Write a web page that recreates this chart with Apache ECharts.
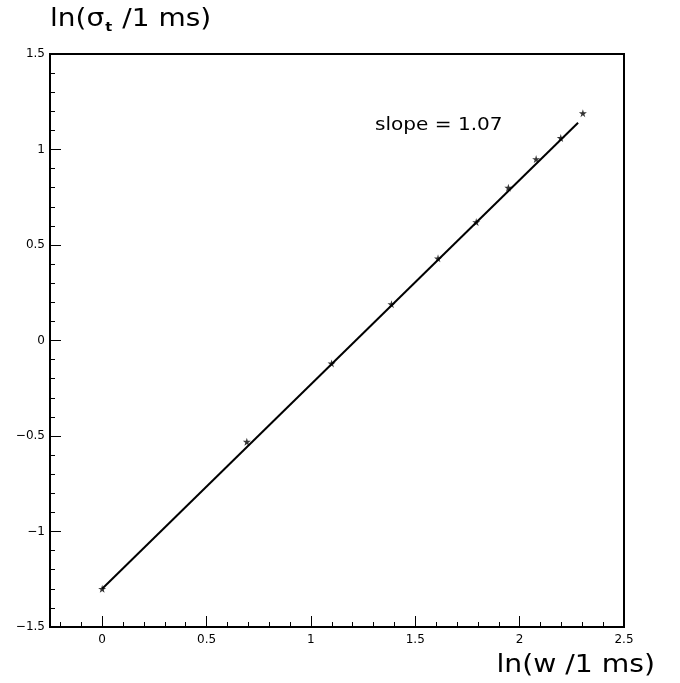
<!DOCTYPE html>
<html>
<head>
<meta charset="utf-8">
<script src="https://cdn.jsdelivr.net/npm/echarts@6/dist/echarts.min.js"></script>
<style>html,body{margin:0;padding:0;background:#fff}#c{width:680px;height:683px}</style>
</head>
<body>
<div id="c"></div>
<script>
var lnW = [0, 0.693, 1.099, 1.386, 1.609, 1.792, 1.946, 2.079, 2.197, 2.303];
var lnSigma = [-1.30, -0.53, -0.12, 0.19, 0.43, 0.62, 0.80, 0.95, 1.06, 1.19];
var fitX = [0, 2.28];
var fitY = [-1.30, 1.14];
var slopeLabel = 'slope = 1.07';

var font = '"DejaVu Sans", sans-serif';
var star = 'path://M50,0 L61,35 L98,35 L68,57 L79,91 L50,70 L21,91 L32,57 L2,35 L39,35 Z';
function fmt(v) {
  var s = String(Math.round(v * 100) / 100);
  if (s === '-0') s = '0';
  return s.replace('-', '\u2212');
}
var L = 50, R = 56, W = 680 - L - R;
var xMin = -0.25, xMax = 2.5;
var pxPerUnit = W / (xMax - xMin);
var chart = echarts.init(document.getElementById('c'));
chart.setOption({
  animation: false,
  backgroundColor: '#fff',
  grid: [
    { left: L, right: R, top: 54, bottom: 56, show: true, borderColor: '#000', borderWidth: 2 },
    { left: L + 0.05 * pxPerUnit, right: R, top: 54, bottom: 56 }
  ],
  xAxis: [{
    type: 'value', min: xMin, max: xMax, splitNumber: 5, gridIndex: 0,
    axisLine: { onZero: false, lineStyle: { color: '#000', width: 2 } },
    axisTick: { inside: true, length: 11, lineStyle: { color: '#000', width: 1 } },
    splitLine: { show: false },
    axisLabel: { showMinLabel: false, color: '#000', fontFamily: font, fontSize: 12, margin: 7,
      formatter: function (v) { return Math.abs(v + 0.25) < 1e-6 ? '' : fmt(v); } }
  }, {
    type: 'value', min: -0.2, max: xMax, interval: 0.1, gridIndex: 1,
    axisLine: { show: false, onZero: false },
    axisTick: { inside: true, length: 5, lineStyle: { color: '#000', width: 1 } },
    splitLine: { show: false },
    axisLabel: { show: false }
  }],
  yAxis: [{
    type: 'value', min: -1.5, max: 1.5, interval: 0.5, gridIndex: 0,
    axisLine: { onZero: false, lineStyle: { color: '#000', width: 2 } },
    axisTick: { inside: true, length: 11, lineStyle: { color: '#000', width: 1 } },
    minorTick: { show: true, splitNumber: 5, length: 5, lineStyle: { color: '#000', width: 1 } },
    splitLine: { show: false },
    axisLabel: { color: '#000', fontFamily: font, fontSize: 12, margin: 5, formatter: fmt }
  }, {
    type: 'value', min: -1.5, max: 1.5, gridIndex: 1, show: false
  }],
  series: [
    {
      type: 'line', data: fitX.map(function (x, i) { return [x, fitY[i]]; }),
      showSymbol: false, symbol: 'none', lineStyle: { color: '#000', width: 2 }, z: 2
    },
    {
      type: 'scatter', data: lnW.map(function (x, i) { return [x, lnSigma[i]]; }),
      symbol: star, symbolSize: 8, itemStyle: { color: '#000' }, z: 3
    }
  ],
  graphic: [
    {
      type: 'text', x: 50, y: 19, scaleX: 1.12,
      style: {
        text: '{a|ln(σ}{s|t}{a| /1 ms)}',
        verticalAlign: 'middle', align: 'left',
        rich: {
          a: { fontFamily: font, fontSize: 25, fill: '#000', lineHeight: 30 },
          s: { fontFamily: font, fontSize: 13, fontWeight: 'bold', fill: '#000', lineHeight: 13, verticalAlign: 'bottom', padding: [0, 1, 0, 1] }
        }
      }
    },
    {
      type: 'text', x: 655, y: 665.5, scaleX: 1.13,
      style: { text: 'ln(w /1 ms)', fontFamily: font, fontSize: 25, fill: '#000', align: 'right', verticalAlign: 'middle' }
    },
    {
      type: 'text', x: 375, y: 126, scaleX: 1.18,
      style: { text: slopeLabel, fontFamily: font, fontSize: 17, fill: '#000', align: 'left', verticalAlign: 'middle' }
    }
  ]
});
</script>
</body>
</html>
